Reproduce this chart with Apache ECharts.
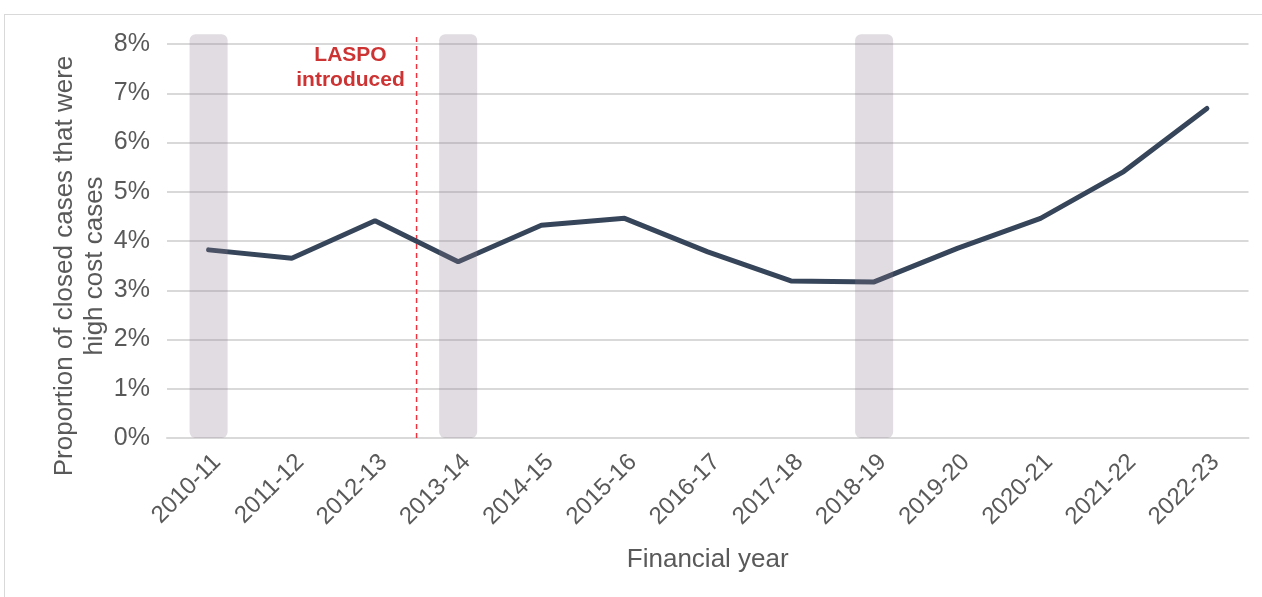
<!DOCTYPE html>
<html>
<head>
<meta charset="utf-8">
<script src="https://cdn.jsdelivr.net/npm/echarts@6/dist/echarts.min.js"></script>
<style>
  html, body { margin: 0; padding: 0; background: #ffffff; overflow: hidden; }
  #frame { position: absolute; left: 4px; top: 14px; width: 1400px; height: 700px;
           border: 1px solid #d9d9d9; box-sizing: border-box; pointer-events: none; }
  #chart { position: absolute; left: 0; top: 0; width: 1262px; height: 597px; }
</style>
</head>
<body>
<div id="frame"></div>
<div id="chart"></div>
<script>
// Financial years on the x axis
const years = ['2010-11', '2011-12', '2012-13', '2013-14', '2014-15', '2015-16', '2016-17',
               '2017-18', '2018-19', '2019-20', '2020-21', '2021-22', '2022-23'];
// Share of closed cases that were high cost cases (%)
const highCostShare = [3.82, 3.65, 4.41, 3.58, 4.32, 4.46, 3.78, 3.19, 3.17, 3.85, 4.46, 5.41, 6.69];
// Shaded reference years (height of the shaded column, in %)
const shadedYears = [8.2, null, null, 8.2, null, null, null, null, 8.2, null, null, null, null];
// LASPO introduction: position between 2012-13 and 2013-14 on the category index scale
const laspoPosition = 2.5;
const laspoTop = 8.2;
const laspoLabel = 'LASPO\nintroduced';
// Y axis ticks
const yMin = 0, yMax = 8, yStep = 1;

const font = '"Liberation Sans", Arial, sans-serif';
const textGrey = '#595959';

const chart = echarts.init(document.getElementById('chart'), null, { renderer: 'canvas' });
chart.setOption({
  animation: false,
  backgroundColor: 'transparent',
  grid: { left: 167, right: 13.5, top: 44, bottom: 159, containLabel: false },
  xAxis: [
    {
      type: 'category',
      data: years,
      boundaryGap: true,
      axisLine: { show: true, lineStyle: { color: '#d9d9d9', width: 2 } },
      axisTick: { show: false },
      axisLabel: {
        rotate: 45, color: textGrey, fontSize: 24, fontFamily: font,
        margin: 12, interval: 0, verticalAlign: 'top'
      },
      name: 'Financial year',
      nameLocation: 'middle',
      nameGap: 109,
      nameMoveOverlap: false,
      nameTextStyle: { color: textGrey, fontSize: 26, fontFamily: font }
    },
    {
      type: 'value',
      min: -0.5,
      max: 12.5,
      show: false
    }
  ],
  yAxis: {
    type: 'value',
    min: yMin,
    max: yMax,
    interval: yStep,
    axisLine: { show: false },
    axisTick: { show: false },
    axisLabel: { formatter: '{value}%', color: textGrey, fontSize: 25, fontFamily: font, margin: 17 },
    splitLine: { lineStyle: { color: '#d9d9d9', width: 2 } },
    name: 'Proportion of closed cases that were\nhigh cost cases',
    nameLocation: 'middle',
    nameGap: 57,
    nameMoveOverlap: false,
    nameTextStyle: {
      color: textGrey, fontSize: 26, fontFamily: font, lineHeight: 30,
      padding: [0, 50, 0, 0]
    }
  },
  series: [
    {
      name: 'High cost share',
      type: 'line',
      data: highCostShare,
      symbol: 'none',
      z: 2,
      lineStyle: { color: '#364559', width: 5, cap: 'round' }
    },
    {
      name: 'Shaded years',
      type: 'bar',
      data: shadedYears,
      barWidth: 38,
      clip: false,
      z: 3,
      itemStyle: { color: 'rgba(136,120,140,0.26)', borderRadius: 6 }
    },
    {
      name: 'LASPO',
      type: 'line',
      xAxisIndex: 1,
      data: [[laspoPosition, yMin], [laspoPosition, laspoTop]],
      symbol: 'none',
      clip: false,
      z: 1,
      lineStyle: { color: '#ee3340', width: 1.5, type: [5, 4] }
    },
    {
      name: 'LASPO label',
      type: 'scatter',
      xAxisIndex: 1,
      data: [[laspoPosition, laspoTop]],
      symbolSize: 0.1,
      clip: false,
      itemStyle: { color: 'transparent' },
      label: {
        show: true,
        formatter: laspoLabel,
        position: 'left',
        distance: 66,
        align: 'center',
        verticalAlign: 'middle',
        offset: [0, 34],
        color: '#c00000',
        fontSize: 21,
        fontWeight: 'bold',
        fontFamily: font,
        lineHeight: 25
      }
    }
  ]
});
</script>
</body>
</html>
